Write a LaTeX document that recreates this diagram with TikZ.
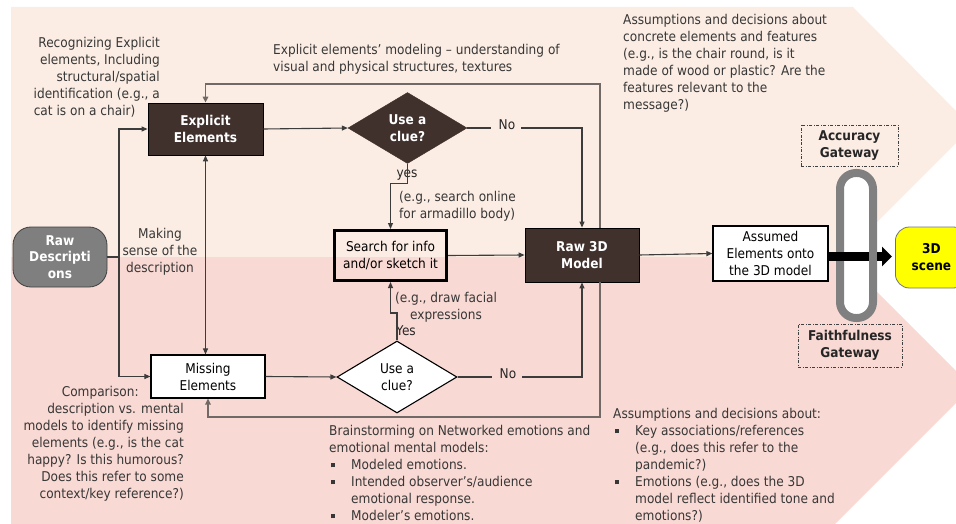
\documentclass[tikz,border=0pt]{standalone}
\usepackage{fontspec}
\setmainfont{DejaVu Sans}[FakeStretch=0.9]
\usetikzlibrary{shapes.geometric,arrows.meta,calc}

\definecolor{peach}{RGB}{252,237,228}
\definecolor{rose}{RGB}{249,217,211}
\definecolor{darkbrown}{RGB}{64,49,45}
\definecolor{rawgray}{RGB}{127,127,127}
\definecolor{txtgray}{RGB}{55,55,55}
\definecolor{ringgray}{RGB}{128,128,128}
\definecolor{fbline}{RGB}{112,105,101}
\definecolor{lineclr}{RGB}{60,60,60}
\definecolor{sceneyellow}{RGB}{255,255,0}

\newcommand\annfont{\fontsize{13.5}{17}\selectfont}
\newcommand\bulletbox{\makebox[22pt][l]{\hspace{2pt}\raisebox{2.5pt}{\rule{4pt}{4pt}}}}
\newcommand\contindent{\hspace*{22pt}}

\begin{document}
\begin{tikzpicture}[x=1pt,y=-1pt,font=\annfont,
  conn/.style={draw=lineclr,line width=1.1pt},
  arr/.style={conn,-{Triangle[length=6pt,width=5pt]}},
  biarr/.style={conn,{Triangle[length=6pt,width=5pt]}-{Triangle[length=6pt,width=5pt]}},
  fb/.style={draw=fbline,line width=1.7pt,-{Triangle[length=6pt,width=5.5pt]}},
  ann/.style={text=txtgray,inner sep=0pt},
  lbl/.style={text=black!85,inner sep=0pt},
  darkbox/.style={draw=black,line width=0.8pt,fill=darkbrown,text=white,
    font=\annfont\bfseries,align=center,inner sep=0pt},
  whitebox/.style={draw=black,line width=1.2pt,fill=white,text=black,
    align=center,inner sep=0pt},
  dkdiamond/.style={diamond,draw=darkbrown,fill=darkbrown,text=white,
    font=\annfont\bfseries,align=center,inner sep=0pt,aspect=1.68},
  wtdiamond/.style={diamond,draw=black,line width=1.1pt,fill=white,text=black,
    align=center,inner sep=0pt,aspect=1.68},
  gatebox/.style={draw=black!75,line width=0.8pt,
    dash pattern=on 3pt off 1.5pt on 1pt off 1.5pt,
    font=\annfont\bfseries,text=black!85,align=center,inner sep=0pt}
]
\useasboundingbox (0,0) rectangle (956,524);

% two background chevron bands
\fill[peach] (11,7) -- (853,7) -- (972,127) -- (842,257) -- (11,257) -- cycle;
\fill[rose] (11,257) -- (842,257) -- (972,387) -- (835,524) -- (11,524) -- cycle;

% main nodes
\node[draw=black!75,line width=0.8pt,fill=rawgray,rounded corners=18pt,
  minimum width=94pt,minimum height=60pt,text=white,font=\fontsize{13.5}{16.5}\selectfont\bfseries,
  align=center,inner sep=0pt] (raw) at (60,257) {Raw\\Descripti\\ons};
\node[darkbox,minimum width=115pt,minimum height=52pt] (explicit) at (205.5,129) {Explicit\\Elements};
\node[whitebox,minimum width=114pt,minimum height=43pt] (missing) at (208,376.5) {Missing\\Elements};
\node[dkdiamond,minimum width=119pt,minimum height=71pt] (d1) at (407.5,128) {Use a\\clue?};
\node[wtdiamond,minimum width=120pt,minimum height=72pt] (d2) at (397,377) {Use a\\clue?};
\node[draw=black,line width=3pt,minimum width=112pt,minimum height=50pt,
  align=center,inner sep=0pt] (search) at (390.5,255.5) {Search for info\\and/or sketch it};
\node[darkbox,minimum width=114pt,minimum height=54pt] (raw3d) at (582,255) {Raw 3D\\Model};
\node[whitebox,minimum width=115pt,minimum height=55pt] (assumed) at (770.5,253.5) {Assumed\\Elements onto\\the 3D model};

% gateway ring, gateway labels and the final scene
\node[draw=ringgray,line width=8pt,fill=white,rounded corners=16pt,
  minimum width=33pt,minimum height=145pt,inner sep=0pt] (ring) at (856.5,245.5) {};
\node[gatebox,minimum width=97pt,minimum height=41pt] (accuracy) at (849.5,145.5) {Accuracy\\Gateway};
\node[gatebox,minimum width=104pt,minimum height=43pt] (faith) at (850,345.5) {Faithfulness\\Gateway};
\node[draw=black!55,line width=0.8pt,fill=sceneyellow,rounded corners=14pt,
  minimum width=72pt,minimum height=61pt,anchor=west,font=\annfont\bfseries,
  align=center,inner sep=0pt] (scene) at (895,257.5) {3D\\scene};

% branch labels
\node[lbl] (no1) at (507,125) {No};
\node[lbl] (no2) at (508,374) {No};
\node[lbl] (yes1) at (407,175) {yes};
\node[lbl] (yes2) at (406,331) {Yes};

% connectors
\coordinate (split) at (119,257);
\draw[conn] (raw.east) -- (split);
\draw[arr] (split) |- (explicit.west);
\draw[arr] (split) |- (missing.west);
\draw[biarr] (explicit.south) -- (explicit.south |- missing.north);
\draw[arr] (explicit.east) -- (d1.west);
\draw[arr] (missing.east) -- (d2.west);
\draw[conn] (d1.east) -- ([xshift=-8pt]no1.west |- d1.east);
\draw[arr] ([xshift=6pt]no1.east |- d1.east) -| (raw3d.north);
\draw[conn] (d2.east) -- ([xshift=-8pt]no2.west |- d2.east);
\draw[arr] ([xshift=6pt]no2.east |- d2.east) -| (raw3d.south);
\draw[arr] (d1.south) -- ++(0,20) -| (search.north);
\draw[arr] (d2.north) -- (397,313) -| (search.south);
\draw[arr] (search.east) -- (raw3d.west);
\draw[arr] (raw3d.east) -- (assumed.west);

% feedback loops back to the element boxes
\coordinate (fbtop) at (600,84);
\coordinate (fbbot) at (600,417);
\draw[fb] (raw3d.north -| fbtop) -- (fbtop) -| (explicit.north);
\draw[fb] (raw3d.south -| fbbot) -- (fbbot) -| (missing.south);

% thick arrow through the gateway ring
\coordinate (barend) at (869,256.5);
\draw[line width=9pt,black] (assumed.east |- barend) -- (barend);
\draw[line width=9pt,black,-{Triangle[length=10pt,width=19pt]},shorten >=3pt]
  (ring.east |- barend) -- (scene.west |- barend);

% annotations
\node[ann,align=right,anchor=north east] (t1) at (160,37.5)
  {Recognizing Explicit\\elements, Including\\structural/spatial\\identification (e.g., a\\\makebox[126pt][l]{cat is on a chair)}};
\node[ann,align=left,anchor=north west] (t2) at (273,44.5)
  {Explicit elements’ modeling – understanding of\\visual and physical structures, textures};
\node[ann,align=left,anchor=north west] (t3) at (623,14.5)
  {Assumptions and decisions about\\concrete elements and features\\(e.g., is the chair round, is it\\made of wood or plastic? Are the\\features relevant to the\\message?)};
\node[ann,align=center,anchor=north] (t4) at (160,228.5)
  {Making\\sense of the\\description};
\node[ann,align=left,anchor=north west] (t5) at (399,191)
  {(e.g., search online\\for armadillo body)};
\node[ann,align=center,anchor=north] (t6) at (446,292)
  {(e.g., draw facial\\expressions};
\node[ann,align=right,anchor=north east] (t7) at (184,386.5)
  {\makebox[122pt][l]{Comparison:}\\description vs. mental\\models to identify missing\\elements (e.g., is the cat\\happy? Is this humorous?\\Does this refer to some\\context/key reference?)};
\node[ann,align=left,anchor=north west] (t8) at (329,425.5)
  {Brainstorming on Networked emotions and\\emotional mental models:\\\bulletbox Modeled emotions.\\\bulletbox Intended observer’s/audience\\\contindent emotional response.\\\bulletbox Modeler’s emotions.};
\node[ann,align=left,anchor=north west] (t9) at (613,408.5)
  {Assumptions and decisions about:\\\bulletbox Key associations/references\\\contindent (e.g., does this refer to the\\\contindent pandemic?)\\\bulletbox Emotions (e.g., does the 3D\\\contindent model reflect identified tone and\\\contindent emotions?)};
\end{tikzpicture}
\end{document}
